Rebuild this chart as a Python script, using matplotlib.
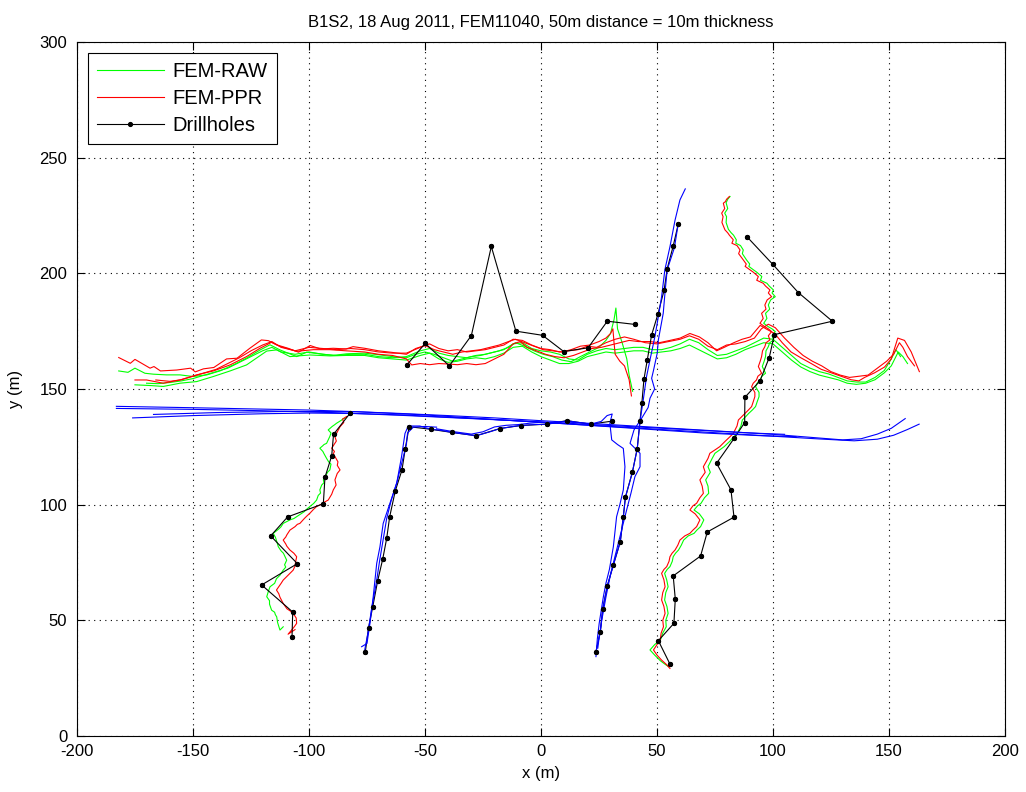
import matplotlib
matplotlib.use('Agg')
import matplotlib.pyplot as plt

plt.rcParams['font.family'] = ['Liberation Sans', 'DejaVu Sans']
plt.rcParams['axes.unicode_minus'] = False

# ---- FEM raw (green) traces ----
raw_a_x = [-182, -178, -175, -170.7, -167, -161.4, -155.6, -150, -144, -138.4, -132.6, -127, -121, -116.8, -112.5, -105.3, -101, -95.3, -89.6, -83.8, -76, -70, -64, -58, -54, -50, -46, -42, -38, -34, -30, -26, -22, -18, -14, -11, -7, -3, 1, 5, 9, 13, 17, 21, 25, 28, 30, 31.5, 32.3, 33, 35, 37, 38, 39.5]
raw_a_y = [157.8, 157.2, 159, 156.8, 156.4, 156.1, 156.1, 155.4, 156.1, 157.8, 160.4, 163.3, 166.9, 169.1, 166.9, 164, 165.9, 165.2, 164.5, 165.2, 165.5, 164.8, 164, 163.5, 165, 166, 165, 163.5, 162, 163, 164, 164.5, 165.5, 166.5, 168, 170, 168.5, 166.5, 165, 164, 162.5, 161.8, 164, 166, 168, 171, 174, 180, 185, 176, 170, 163, 156, 149]

raw_b_x = [-175, -168.5, -162.8, -155.6, -148.4, -141.2, -134, -126.9, -118.2, -113.9, -108.2, -99.6, -90.9, -84, -76, -70, -64, -58, -52, -48, -44, -40, -36, -32, -28, -24, -20, -16, -12, -8, -4, 0, 4, 8, 12, 16, 20, 24, 28, 32, 36, 40, 44, 48, 52, 56, 60, 64, 68, 72, 76, 80, 84, 88, 92, 96, 100, 104, 108, 112, 116, 120, 124, 128, 132, 136, 140, 144, 148, 151, 154, 156, 158]
raw_b_y = [151.8, 151.5, 151.1, 152.5, 153.2, 155.4, 157.8, 160.4, 166.4, 166.9, 164, 164.7, 164.3, 164.5, 164.5, 163.5, 163, 162.5, 164.5, 165.5, 163, 161.5, 162, 163, 163.5, 163, 164, 165.5, 168, 168.5, 166, 164, 162.5, 161, 161, 162, 164, 165, 166, 165.5, 166, 166.5, 166.5, 165.5, 166, 166.5, 167.5, 169, 167, 165, 163, 163.5, 165, 167, 168.5, 170, 169.5, 166, 162.5, 159.5, 157.5, 156, 155, 154, 152.5, 152, 152.5, 154, 157, 160, 166, 164, 161]

raw_c_x = [-170, -165, -160, -155, -150, -145, -140, -135, -130, -125, -120, -116, -112, -106, -100, -94, -88, -82, -76, -70, -64, -58, -52, -48, -44, -40, -36, -32, -28, -24, -20, -16, -12, -8, -4, 0, 4, 8, 12, 16, 20, 24, 28, 32, 36, 40, 44, 48, 52, 56, 60, 64, 68, 72, 76, 80, 84, 88, 92, 96, 100, 104, 108, 112, 116, 120, 124, 128, 132, 136, 140, 144, 148, 151, 153, 155]
raw_c_y = [152.5, 152.3, 152.8, 153.5, 154.5, 156, 157.5, 159, 161.5, 164, 166.5, 168, 166, 165, 166, 165, 164.5, 165, 165, 164, 163.5, 164, 166.5, 167.5, 165.5, 164.5, 164, 163.5, 164.5, 165, 166, 167, 169.5, 170, 167.5, 166.5, 166, 165, 163, 162.5, 165, 166.5, 167.5, 167, 167.5, 168, 168, 167, 167, 168, 169.5, 171.5, 170, 167, 164.5, 165, 166.5, 168, 170, 172, 171.5, 168, 164.5, 161, 159, 157.5, 156.5, 155, 153.5, 153, 153, 155, 158, 163, 167, 164]

raw_west_x = [-84.5, -85.5, -86, -88.1, -89, -90, -91.7, -90.5, -91, -92.4, -93.5, -94, -95.3, -94, -93.5, -92.4, -91.5, -90.5, -91, -92, -92.5, -93.8, -93.5, -94.5, -95.3, -95, -96, -96.7, -98, -99.6, -101, -102, -105.3, -106.5, -108, -111.1, -112, -113, -115.4, -114.5, -114, -113.2, -112, -111, -109.6, -110.5, -110, -111.1, -112.5, -114, -114.8, -116.8, -117.5, -118.2, -117, -117, -116.1, -114.8, -114.5, -113.9, -113.5, -112.5, -111.1]
raw_west_y = [137.4, 137, 136.5, 135.2, 134.5, 133.8, 132.3, 131, 129.5, 126.5, 126, 125.5, 124.4, 123, 122, 120, 118.5, 117.5, 115, 114, 113, 110.7, 109.5, 108.5, 106.4, 105, 104, 102, 100.5, 99.2, 98, 97, 94.8, 94, 93.5, 91.9, 90.5, 89.5, 87.6, 86, 84.5, 81.8, 80, 79, 76, 74, 73, 71.7, 69.5, 68, 66, 64.5, 62.5, 60.2, 58.5, 57, 54.4, 53.5, 52.5, 51.5, 49, 45.8, 47.2]

raw_east_x = [81.5, 80.5, 79.8, 80.5, 79.2, 80, 79.8, 80.8, 82, 83, 84.2, 84, 86, 87.2, 86.8, 88.6, 90, 89.6, 91.6, 93, 95.2, 94.6, 97.4, 98.4, 100.2, 99.6, 101, 99, 98, 98.6, 96.8, 97.4, 96, 98, 99.6, 101, 99.6, 100.3, 98.6, 98, 97, 96.8, 96.2, 95.4, 96.8, 95.2, 94.5, 93.2, 92.5, 94, 94, 93.2, 92.5, 91.2, 89.6, 88.2, 86.8, 86.2, 84.6, 83.2, 81.5, 79, 77.5, 75, 73.8, 72, 73, 71, 72, 72.3, 70.5, 69, 67.5, 66, 68.3, 70.2, 68.8, 67.2, 66, 63.5, 61.5, 60.5, 59.3, 58, 57, 56.6, 55.6, 54.4, 53.3, 54.2, 54.8, 53.8, 53.3, 54.3, 54.8, 53.8, 54, 52.5, 51.5, 49, 47, 49, 51.5, 53.5, 55]
raw_east_y = [233.2, 232, 230.5, 228, 226, 224.5, 222, 219, 217.5, 216.5, 214.5, 213, 212, 210.1, 208.5, 205.8, 204, 203, 201.5, 200.5, 198.6, 197, 195.7, 194.5, 192.8, 191.5, 189.9, 188.5, 186.3, 184.5, 182.7, 180.5, 178.4, 176.9, 176, 174.8, 173, 171.2, 170, 168.3, 166.5, 164, 162, 159.7, 156.8, 155.5, 153.9, 152.5, 151, 148.5, 146.7, 144.5, 142.4, 141, 139.5, 138, 136.6, 134, 130.8, 129.4, 127.5, 125.1, 124, 122.2, 120, 116.4, 114, 110.7, 108, 104.9, 103, 100.6, 99.5, 97.7, 96, 93.4, 90.5, 89, 87.6, 86.5, 84.7, 82.5, 80.4, 79, 77.5, 75.5, 73.2, 72, 70.3, 67.5, 64.5, 62, 58.8, 56, 53, 50, 47.2, 44.5, 41.5, 39.5, 37.2, 35, 32.5, 31, 30]

# ---- FEM post-processed (red) traces ----
ppr_a_x = [-182, -177, -175, -168.5, -166.8, -164, -157, -151, -149, -145.5, -141, -135.5, -131, -125.5, -120.5, -117.5, -114, -109, -104.5, -99.5, -95, -89.5, -84, -81, -76, -70, -64, -58, -54, -50, -46, -42, -38, -34, -30, -26, -22, -18, -14, -11, -7, -3, 1, 5, 9, 13, 17, 21, 25, 28, 30, 31, 31.5, 32, 34, 36, 38, 39]
ppr_a_y = [163.6, 161.1, 162.8, 159, 159.7, 157.8, 158.2, 159, 157.4, 158.7, 159.3, 163, 163.3, 167.6, 171.2, 170.9, 169.1, 167.6, 165.9, 168.8, 167.3, 167.6, 167.3, 168.3, 167.6, 166.5, 165.8, 165, 167.5, 168.8, 167, 166, 165, 166, 166.5, 167, 168, 169, 170.5, 171.5, 170, 168.5, 167, 166.5, 166, 167, 168.5, 169, 170.5, 172, 174, 176, 170, 165, 162, 160, 154, 147]

ppr_b_x = [-175, -170, -162.8, -155.6, -148.4, -141.2, -134, -126.9, -121.1, -116.1, -112.5, -105.3, -98, -91, -84, -76, -70, -64, -58, -55.7, -52, -48, -44, -40, -36, -32, -28, -24, -20, -16, -12, -9, -6, -2, 2, 6, 10, 14, 18, 22, 26, 30, 34, 38, 42, 47, 51, 55.6, 60, 64.2, 68.3, 72, 75.7, 79, 83.1, 86.7, 90.3, 94.5, 97, 100.7, 104, 107.8, 112, 116.5, 120.8, 125.1, 129.4, 133.7, 137, 139.5, 143.8, 148.1, 151, 153.8, 156.7, 159.6, 163.1]
ppr_b_y = [153.9, 153.9, 152.5, 153.9, 156.1, 157.8, 160.4, 164, 167.6, 170.2, 168.4, 166.3, 167, 167, 166.5, 166, 165, 164.5, 163, 160.4, 161, 160.5, 161, 160.8, 160.5, 161, 160.5, 161, 163, 165, 169.5, 170.5, 168, 166.5, 165, 164, 163.5, 164.5, 166, 167.5, 168, 169, 170, 171, 170.5, 170.5, 170, 171, 172, 174, 172.5, 170, 166.5, 168, 170, 171.5, 172.5, 177.5, 176, 174, 170, 166, 163.5, 161, 158.5, 157, 155.5, 154, 153.5, 155, 157, 159.5, 163, 172, 171, 166, 157.5]

ppr_c_x = [-166, -160, -155, -150, -145, -140, -135, -130, -125, -120, -116, -112, -106, -100, -94, -88, -82, -76, -70, -64, -58, -52, -48, -44, -40, -36, -32, -28, -24, -20, -16, -12, -8, -4, 0, 4, 8, 12, 16, 20, 24, 28, 32, 36, 40, 45, 50, 55, 60, 64, 68, 72, 76, 80, 84, 88, 92, 95, 98, 101, 105, 109, 113, 117, 121, 125, 129, 133, 137, 141, 145, 149, 152, 154.5, 156, 158, 161]
ppr_c_y = [153.9, 153.3, 154, 155.5, 157, 158.5, 161, 163.5, 166.5, 169, 170.5, 168, 166.5, 168, 167.5, 167, 167.5, 167, 166, 165.5, 165.5, 168, 169.5, 167.5, 166.5, 167, 166, 166.5, 167, 168, 169, 171.5, 171, 169, 167.5, 167, 166, 166.5, 167, 168.5, 168, 170, 171.5, 172.5, 171.5, 170, 169.5, 170.5, 171.5, 173, 171.5, 168.5, 167, 169, 169.5, 170.5, 172, 176, 178, 176.5, 172, 168, 164.5, 162, 160, 157.5, 156, 155, 155.5, 156, 159, 162, 165, 170, 168, 164, 160]

ppr_west_x = [-83.8, -85.5, -85, -86.6, -87.5, -88.8, -88.2, -90.2, -89, -89.5, -88.8, -87.5, -87.8, -86.6, -87.8, -88.8, -88.3, -89.5, -90.2, -91.7, -93.5, -94, -96.7, -98, -99.6, -101, -102, -103.9, -105, -106, -108.2, -109.5, -110, -111.1, -110, -109.5, -108.2, -106.5, -105.3, -105.8, -106, -106.8, -108.5, -109, -111.1, -112, -114, -113, -112.5, -111.1, -109.5, -108, -106.8, -105.5, -105.3, -106.5, -107.5, -109, -107.5, -106]
ppr_west_y = [138.1, 137, 135.5, 133.7, 132, 129.4, 127.5, 124.4, 123, 122, 120.8, 118.5, 117, 115, 113.5, 110.7, 108.5, 106.4, 104.5, 102, 101, 100.5, 99.2, 98, 96.3, 95, 94, 91.9, 91.5, 90.5, 89, 87, 86, 84.7, 83, 82, 80.4, 79, 77.5, 75, 73.5, 71.7, 70, 69.5, 67.4, 66, 63.1, 61.5, 60, 57.3, 55, 54, 53, 51, 48.7, 47, 45.8, 44, 45, 46]

ppr_east_x = [81.2, 80, 79.5, 78.6, 79.2, 77.9, 78.5, 78, 79.3, 80.5, 81.2, 82.9, 82.3, 84.5, 85.8, 85.2, 87.2, 88.5, 88, 90.1, 91.5, 93.7, 93, 95.8, 96.8, 98.7, 98, 99.4, 97.5, 96.5, 97, 95.1, 95.8, 94.4, 96.5, 98, 99.4, 98, 98.7, 97, 96.5, 95.5, 95.1, 94.5, 93.7, 95.1, 93.5, 92.9, 91.5, 90.8, 92.2, 92.2, 91.5, 90.8, 89.5, 88, 86.5, 85.1, 84.5, 82.9, 81.5, 79.5, 77.1, 75.5, 72.8, 72, 70, 70.8, 68.5, 69.5, 70, 68.5, 67.1, 65.5, 64.2, 66.5, 68.5, 67.1, 65.5, 64.2, 62, 59.9, 59, 57.8, 56.5, 55.6, 55.2, 54.2, 53, 52, 53, 53.5, 52.5, 52, 53, 53.5, 52.5, 52.8, 51.8, 51.4, 50, 48.5, 50, 52, 54, 55.6]
ppr_east_y = [233.2, 232, 231, 230.3, 228, 226, 224.5, 222, 218.8, 217.5, 216.5, 214.5, 213, 212, 210.1, 208.5, 205.8, 204, 203, 201.5, 200.5, 198.6, 197, 195.7, 194.5, 192.8, 191.5, 189.9, 188.5, 186.3, 184.5, 182.7, 180.5, 178.4, 176.9, 176, 174.8, 173, 171.2, 170, 168.3, 166.5, 164, 162, 159.7, 156.8, 155.5, 153.9, 152.5, 151, 148.5, 146.7, 144.5, 142.4, 141, 139.5, 138, 136.6, 134, 130.8, 129.4, 127.5, 125.1, 124, 122.2, 120, 116.4, 114, 110.7, 108, 104.9, 103, 100.6, 99.5, 97.7, 96, 93.4, 90.5, 89, 87.6, 86.5, 84.7, 82.5, 80.4, 79, 77.5, 75.5, 73.2, 72, 70.3, 67.5, 64.5, 62, 58.8, 56, 53, 50, 47.2, 44.5, 41.5, 39.5, 37.2, 35, 32.8, 31, 29.2]

# ---- blue traces (second survey) ----
blue_h1_x = [-183, -150, -120, -100, -80, -60, -40, -20, 0, 20, 40, 60, 80, 100, 115, 130, 138, 145, 151, 157]
blue_h1_y = [142.5, 141.9, 141.3, 140.9, 140.2, 139.4, 138.5, 137.5, 136.3, 135.2, 134, 132.8, 131.6, 130.4, 129.2, 128, 128.5, 130.5, 133, 137.2]
blue_h2_x = [-176, -150, -120, -100, -80, -60, -40, -20, 0, 20, 40, 60, 80, 100, 120, 135, 145, 152, 158, 163]
blue_h2_y = [137.5, 138.5, 139.3, 139.6, 139.4, 138.8, 137.8, 136.8, 135.6, 134.4, 133.2, 132, 130.8, 129.6, 128.4, 127.6, 128.3, 130, 132.5, 134.8]
blue_h3_x = [-167, -140, -110, -80, -50, -20, 10, 40, 70, 95, 110]
blue_h3_y = [139, 139.8, 140.3, 140.2, 138.8, 136.8, 135, 133, 131, 129.8, 129.4]
blue_h4_x = [-183, -150, -120, -90, -60, -30, 0, 30, 60, 90, 105]
blue_h4_y = [141.6, 141.2, 140.6, 139.8, 138.6, 137.2, 135.8, 134.2, 132.6, 131, 130.4]

blue_v1_x = [-77.3, -75, -73.7, -72.3, -70.8, -69.4, -68, -65.1, -62.2, -60.1, -58.6, -57.2, -52.2, -47.6, -43.5, -38.2, -33, -27.9, -22, -17.7, -12, -8.8, -3, 2.4, 8, 11.1, 16, 21.4, 26, 28.5, 30.7, 29.7, 30.5, 33, 35.5, 36.2, 35.5, 34, 32.6, 31.2, 29.5, 28, 26.9, 25.1, 24.3, 23.7]
blue_v1_y = [38.6, 40, 48.7, 60.2, 74.6, 81.8, 91.9, 100.6, 109.2, 120.7, 130.8, 134, 134, 132.6, 132.2, 131.2, 130.5, 129.8, 131.5, 132.9, 133.8, 134.2, 134.6, 134.8, 135.5, 136.3, 135.6, 134.8, 136, 138.5, 139.2, 135.2, 128, 126, 124.3, 116.4, 106.4, 100, 94.8, 81.8, 72, 66, 60.2, 48.7, 42, 34.3]
blue_v2_x = [-76, -74.5, -73, -71, -69.5, -68, -66.5, -64.5, -62, -60, -58, -57.5, -55, -50, -45]
blue_v2_y = [37, 45, 55, 66, 76, 85, 94, 102, 110, 118, 126, 131, 133.5, 133.8, 133.5]
blue_v3_x = [-45, -38, -30, -25, -20, -15, -10, -5, 0]
blue_v3_y = [132.8, 131.6, 130.5, 131.5, 133.6, 134.3, 134.6, 135.2, 135.6]
blue_v4_x = [23.7, 25.6, 26.6, 28.6, 31.2, 34.2, 35.5, 36.4, 39.4, 41.5, 42.7, 44.1, 45.5, 47, 49.1, 50.6, 52, 53.4, 55.6, 57.8, 59.9, 62.2]
blue_v4_y = [36.4, 45.1, 54.9, 64.9, 73.9, 84, 94.8, 103.2, 114, 124.2, 136.2, 145.3, 155.3, 162.6, 172.6, 181.3, 189.9, 201.5, 211.5, 223, 231.7, 236.5]
blue_v5_x = [59.2, 57.5, 54.4, 53.5, 52.7, 50.6, 50.1, 48.5, 47.7, 49, 47, 46.2, 43.8, 40.1, 38.4, 42.7, 42.7, 40.5, 38.8, 37, 35, 32.5, 30, 28, 26.2, 25, 24.5]
blue_v5_y = [221.6, 211, 201.5, 192, 182.7, 171.2, 165.4, 158, 154.6, 150, 146, 142, 138, 132.3, 126.5, 122.2, 116.4, 112.1, 105, 98, 90, 80, 70, 60, 50, 42, 38]

# ---- drillholes ----
dh_west_x = [-82.3, -89.4, -90.2, -93.1, -93.8, -109.2, -116.5, -105.0, -120.4, -107.0, -107.3]
dh_west_y = [139.5, 130.4, 121.1, 111.8, 100.4, 94.7, 86.5, 74.5, 65.3, 53.6, 42.9]
dh_bw_x = [-75.7, -74.3, -72.5, -70.4, -68.2, -66.5, -65.2, -62.8, -59.9, -58.5, -56.8, -47.6, -38.2, -27.9, -17.7, -8.8, 2.4, 11.1, 21.4, 30.6]
dh_bw_y = [36.4, 46.8, 55.9, 67.0, 76.5, 85.4, 94.8, 105.9, 115.0, 124.2, 133.7, 132.6, 131.2, 129.8, 132.9, 134.2, 134.8, 136.3, 134.8, 136.1]
dh_be_x = [23.7, 25.6, 26.6, 28.6, 31.2, 34.2, 35.5, 36.4, 39.4, 41.5, 42.7, 43.5, 44.4, 45.8, 47.7, 50.4, 53.1, 54.4, 57.0, 59.2]
dh_be_y = [36.4, 45.1, 54.9, 64.9, 73.9, 84.0, 94.8, 103.2, 114.0, 124.2, 136.2, 144.0, 154.3, 162.4, 173.4, 182.3, 192.8, 201.9, 211.8, 221.4]
dh_mid_x = [-57.9, -49.9, -39.5, -30.0, -21.4, -10.8, 0.7, 9.8, 20.3, 28.6, 40.6]
dh_mid_y = [160.3, 169.7, 160.0, 173.1, 211.6, 175.0, 173.2, 166.2, 167.8, 179.3, 177.9]
dh_east_x = [88.7, 99.9, 110.9, 125.6, 100.6, 98.4, 94.4, 87.9, 87.8, 83.3, 75.7, 81.9, 83.2, 71.7, 68.8, 57.0, 57.9, 57.3, 50.6, 55.6]
dh_east_y = [215.9, 203.9, 191.7, 179.3, 173.5, 163.6, 153.5, 146.4, 135.5, 128.7, 117.9, 106.4, 94.6, 88.2, 77.8, 69.2, 59.2, 48.7, 41.2, 31.1]

raw = [(raw_a_x, raw_a_y), (raw_b_x, raw_b_y), (raw_c_x, raw_c_y),
       (raw_west_x, raw_west_y), (raw_east_x, raw_east_y)]
ppr = [(ppr_a_x, ppr_a_y), (ppr_b_x, ppr_b_y), (ppr_c_x, ppr_c_y),
       (ppr_west_x, ppr_west_y), (ppr_east_x, ppr_east_y)]
blue = [(blue_h1_x, blue_h1_y), (blue_h2_x, blue_h2_y), (blue_h3_x, blue_h3_y),
        (blue_h4_x, blue_h4_y), (blue_v1_x, blue_v1_y), (blue_v2_x, blue_v2_y),
        (blue_v3_x, blue_v3_y), (blue_v4_x, blue_v4_y), (blue_v5_x, blue_v5_y)]
holes = [(dh_west_x, dh_west_y), (dh_bw_x, dh_bw_y), (dh_be_x, dh_be_y),
         (dh_mid_x, dh_mid_y), (dh_east_x, dh_east_y)]

fig = plt.figure(figsize=(10.26, 7.92), dpi=100)
ax = fig.add_axes([0.075, 0.0707, 0.9045, 0.8763])

for i, (x, y) in enumerate(raw):
    ax.plot(x, y, color='#00ff00', lw=0.8, zorder=2, label='FEM-RAW' if i == 0 else None)
for i, (x, y) in enumerate(ppr):
    ax.plot(x, y, color='#ff0000', lw=0.8, zorder=2.5, label='FEM-PPR' if i == 0 else None)
for i, (x, y) in enumerate(holes):
    ax.plot(x, y, color='k', lw=0.8, marker='.', ms=5.5, zorder=3,
            label='Drillholes' if i == 0 else None)
for x, y in blue:
    ax.plot(x, y, color='#0000ff', lw=0.8, zorder=4)
# keep the drillhole points visible above the blue lines
for x, y in holes:
    ax.plot(x, y, ls='none', color='k', marker='.', ms=5.5, zorder=5)

ax.set_xlim(-200, 200)
ax.set_ylim(0, 300)
ax.set_xticks(range(-200, 201, 50))
ax.set_yticks(range(0, 301, 50))
ax.grid(True, color='k', ls=(0, (1, 4)), lw=0.8)
ax.tick_params(direction='in', top=True, right=True, labelsize=12, length=6)
ax.tick_params(axis='x', pad=6)
ax.tick_params(axis='y', pad=7)
ax.set_xlabel('x (m)', fontsize=12, labelpad=5)
ax.set_ylabel('y (m)', fontsize=12, labelpad=12)
ax.set_title('B1S2, 18 Aug 2011, FEM11040, 50m distance = 10m thickness', fontsize=12, pad=11)

leg = ax.legend(loc='upper left', fontsize=14.5, handlelength=3.3, handletextpad=0.45,
                fancybox=False, framealpha=1, edgecolor='k', borderpad=0.45,
                labelspacing=0.4, borderaxespad=0, bbox_to_anchor=(0.012, 0.984))
leg.get_frame().set_linewidth(0.8)

fig.savefig('out.png', dpi=100)
